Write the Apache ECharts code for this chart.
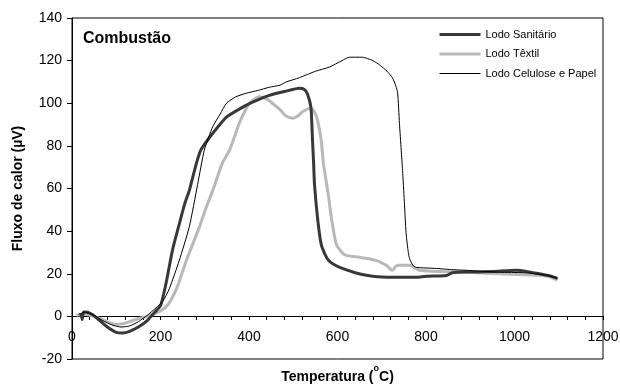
<!DOCTYPE html>
<html>
<head>
<meta charset="utf-8">
<script src="https://cdn.jsdelivr.net/npm/echarts@6/dist/echarts.min.js"></script>
<style>
  html, body { margin: 0; padding: 0; background: #fff; }
  #chart { width: 620px; height: 385px; }
</style>
</head>
<body>
<div id="chart"></div>
<script>
// Temperatura (°C) e fluxo de calor (µV)
const sanitarioTemp = [20, 23, 26, 30, 45, 60, 80, 100, 115, 130, 150, 170, 185, 200, 212, 227, 242, 255, 265, 280, 291, 311, 330, 349, 380, 408, 446, 480, 514, 525, 532, 540, 543, 546, 548, 555, 563, 572, 581, 595, 611, 640, 665, 700, 778, 800, 846, 860, 900, 950, 1004, 1030, 1056, 1080, 1097]
const sanitarioFlux = [1.5, -1.5, 2, 2, 1, -1.5, -5, -7.5, -7.8, -7, -5, -2, 1.5, 5, 15, 31, 43, 53, 59, 71, 78, 84, 89, 93.5, 97.5, 100.5, 103.7, 105.5, 107, 106.5, 104.5, 98, 85, 72, 62, 46, 34, 29, 26, 24, 22.5, 20.5, 19.3, 18.5, 18.3, 18.8, 19.2, 20.5, 20.8, 21, 21.6, 21, 20, 19, 17.8]

const textilTemp = [10, 30, 50, 70, 85, 100, 115, 130, 150, 170, 190, 200, 215, 227, 240, 258, 273, 288, 303, 318, 340, 356, 365, 378, 390, 401, 423, 440, 453, 470, 484, 499, 510, 521, 540, 550, 555, 563, 568, 574, 580, 586, 597, 610, 620, 650, 687, 710, 724, 732, 740, 763, 785, 840, 891, 966, 1056, 1080, 1097]
const textilFlux = [0.5, 1, 0, -1.5, -3, -3.8, -3.5, -2.5, -1, 0, 1.5, 2.5, 5, 9, 15, 26, 34, 42, 51, 59, 72, 78, 83, 90.6, 96, 100, 103, 102, 100, 97, 94, 93, 94, 96, 97.6, 95, 92, 83, 72, 64, 56, 46.5, 34, 30, 28.6, 27.7, 26.3, 24, 21.6, 23.5, 24, 24, 21.6, 21, 20.7, 20, 19.3, 18.5, 17]

const celuloseTemp = [15, 30, 50, 70, 90, 111, 130, 150, 170, 190, 205, 220, 242, 265, 284, 299, 318, 335, 349, 370, 394, 420, 446, 470, 484, 514, 550, 582, 610, 627, 656, 680, 695, 712, 724, 732, 736, 740, 744, 747, 751, 755, 760, 763, 770, 778, 823, 853, 900, 966, 1020, 1072, 1097]
const celuloseFlux = [1, 2, 0.5, -2, -4, -5, -4.5, -2.5, 0.5, 4, 7, 13, 26, 42, 62, 78, 89, 95, 100, 103, 104.7, 106, 107.5, 108.5, 110, 112, 115, 117, 120, 121.6, 121.6, 120, 118, 115, 112, 108, 104.7, 90.6, 78, 68.5, 54, 39, 30, 27, 24, 23, 22.5, 22, 21.5, 20.7, 20.5, 19.3, 17.8]

const seriesNames = ['Lodo Sanitário', 'Lodo Têxtil', 'Lodo Celulose e Papel']
const seriesColors = ['#383838', '#b8b8b8', '#000']
const seriesWidths = [3, 3, 1]

const pairs = (xs, ys) => xs.map((x, i) => [x, ys[i]])

const chart = echarts.init(document.getElementById('chart'))
const font = 'Liberation Sans, Arial, sans-serif'

const option = {
  animation: false,
  textStyle: { fontFamily: font },
  grid: {
    left: 72,
    right: 17,
    top: 18,
    bottom: 26,
    containLabel: false,
    outerBoundsMode: 'none',
    show: true,
    borderColor: '#000',
    borderWidth: 1,
    backgroundColor: 'transparent'
  },
  graphic: [{
    type: 'text',
    left: 83,
    top: 31,
    style: { text: 'Combustão', font: 'bold 16px ' + font, fill: '#000' }
  }],
  legend: {
    orient: 'vertical',
    left: 433,
    top: 24,
    itemWidth: 41,
    itemHeight: 12,
    itemGap: 8.5,
    itemStyle: { opacity: 0 },
    textStyle: { fontSize: 11, color: '#000', fontFamily: font },
    data: seriesNames.map((name, i) => ({
      name,
      lineStyle: { color: seriesColors[i], width: seriesWidths[i] }
    }))
  },
  xAxis: {
    type: 'value',
    min: 0,
    max: 1200,
    interval: 200,
    // the zero line sits 43px above the bottom of the plot (-20..0)
    offset: -43,
    name: '{n|Temperatura (}{sup|o}{n|C)}',
    nameLocation: 'middle',
    nameGap: 48,
    nameTextStyle: {
      color: '#000',
      rich: {
        n: { fontSize: 14, fontWeight: 'bold', lineHeight: 20, verticalAlign: 'bottom', color: '#000', fontFamily: font },
        sup: { fontSize: 9, fontWeight: 'bold', lineHeight: 9, verticalAlign: 'top', color: '#000', fontFamily: font }
      }
    },
    axisLine: { onZero: false, lineStyle: { color: '#000', width: 1 } },
    axisTick: { show: true, inside: false, length: 4, lineStyle: { color: '#000' } },
    minorTick: { show: true, splitNumber: 5, length: 4, lineStyle: { color: '#000' } },
    axisLabel: { fontSize: 14, color: '#000', margin: 14, fontFamily: font, formatter: v => String(v) },
    splitLine: { show: false }
  },
  yAxis: {
    type: 'value',
    min: -20,
    max: 140,
    interval: 20,
    name: 'Fluxo de calor (µV)',
    nameLocation: 'middle',
    nameGap: 47,
    nameTextStyle: { fontSize: 14, fontWeight: 'bold', color: '#000', fontFamily: font },
    axisLine: { show: true, onZero: false, lineStyle: { color: '#000', width: 1 } },
    axisTick: { show: true, inside: false, length: 5, lineStyle: { color: '#000' } },
    axisLabel: { fontSize: 14, color: '#000', margin: 10, fontFamily: font, formatter: v => String(v) },
    splitLine: { show: false }
  },
  series: seriesNames.map((name, i) => ({
    name,
    type: 'line',
    data: [
      pairs(sanitarioTemp, sanitarioFlux),
      pairs(textilTemp, textilFlux),
      pairs(celuloseTemp, celuloseFlux)
    ][i],
    symbol: 'none',
    smooth: 0.2,
    z: [3, 2, 4][i],
    lineStyle: { color: seriesColors[i], width: seriesWidths[i] },
    itemStyle: { color: seriesColors[i] }
  }))
}

chart.setOption(option)
</script>
</body>
</html>
